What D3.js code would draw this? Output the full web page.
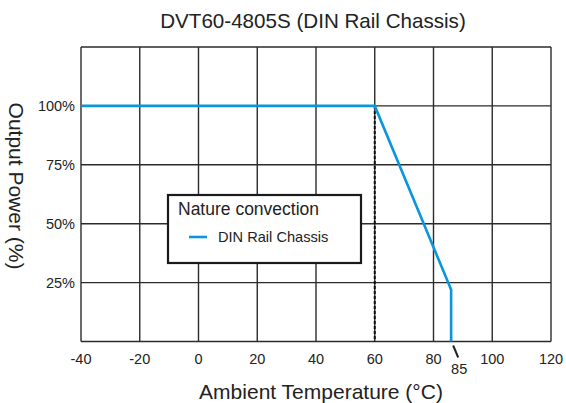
<!DOCTYPE html>
<html>
<head>
<meta charset="utf-8">
<script src="https://cdn.jsdelivr.net/npm/d3@7"></script>
<style>
  body { margin: 0; background: #fff; }
  text { font-family: "Liberation Sans", Arial, sans-serif; fill: #222; }
</style>
</head>
<body>
<div id="chart"></div>
<script>
// data
const temps = [-40, 60, 85, 86, 86];
const power = [100, 100, 25, 22, 0];
const xTicks = [-40, -20, 0, 20, 40, 60, 80, 100, 120];
const yTicks = [25, 50, 75, 100];
const yGrid = [0, 25, 50, 75, 100, 125];
const derateStart = 60;
const maxTemp = 85;

const W = 566, H = 403;
const margin = {top: 47, right: 15, bottom: 62, left: 81};
const w = 551 - margin.left;
const h = 341.5 - margin.top;

const svg = d3.select("#chart").append("svg")
  .attr("width", W).attr("height", H);

const g = svg.append("g")
  .attr("transform", "translate(" + margin.left + "," + margin.top + ")");

const x = d3.scaleLinear().domain([-40, 120]).range([0, w]);
const y = d3.scaleLinear().domain([0, 125]).range([h, 0]);

//------------------------------grid---------------------------------
g.selectAll(".vgrid").data(xTicks).enter().append("line")
  .attr("x1", d => x(d)).attr("x2", d => x(d))
  .attr("y1", 0).attr("y2", h)
  .attr("stroke", "#2b2b2b").attr("stroke-width", 1.4);

g.selectAll(".hgrid").data(yGrid).enter().append("line")
  .attr("x1", 0).attr("x2", w)
  .attr("y1", d => y(d)).attr("y2", d => y(d))
  .attr("stroke", "#2b2b2b").attr("stroke-width", 1.4);

//------------------------------tick labels---------------------------
g.selectAll(".xlab").data(xTicks).enter().append("text")
  .attr("x", d => x(d)).attr("y", h + 22)
  .attr("text-anchor", "middle")
  .style("font-size", "14.5px")
  .text(d => d);

g.selectAll(".ylab").data(yTicks).enter().append("text")
  .attr("x", -6).attr("y", d => y(d) + 5)
  .attr("text-anchor", "end")
  .style("font-size", "14.5px")
  .text(d => d + "%");

// 85 marker
g.append("line")
  .attr("x1", x(maxTemp) + 5).attr("y1", h + 4)
  .attr("x2", x(maxTemp) + 10).attr("y2", h + 16)
  .attr("stroke", "#222").attr("stroke-width", 2);
g.append("text")
  .attr("x", x(maxTemp) + 11).attr("y", h + 32)
  .attr("text-anchor", "middle")
  .style("font-size", "14.5px")
  .text(maxTemp);

//------------------------------dashed 60 line------------------------
g.append("line")
  .attr("x1", x(derateStart)).attr("x2", x(derateStart))
  .attr("y1", y(100)).attr("y2", h)
  .attr("stroke", "#111").attr("stroke-width", 2)
  .attr("stroke-dasharray", "3,2");

//------------------------------curve---------------------------------
const pts = temps.map((t, i) => [t, power[i]]);
g.append("path")
  .datum(pts)
  .attr("fill", "none")
  .attr("stroke", "#0a96dc")
  .attr("stroke-width", 2.6)
  .attr("d", d3.line().x(d => x(d[0])).y(d => y(d[1])));

//------------------------------legend--------------------------------
const lg = svg.append("g").attr("transform", "translate(168,195)");
lg.append("rect")
  .attr("width", 193).attr("height", 68)
  .attr("fill", "#fff").attr("stroke", "#1a1a1a").attr("stroke-width", 2.2);
lg.append("text")
  .attr("x", 10).attr("y", 20)
  .style("font-size", "17.5px")
  .text("Nature convection");
lg.append("line")
  .attr("x1", 21).attr("x2", 39).attr("y1", 42).attr("y2", 42)
  .attr("stroke", "#0a96dc").attr("stroke-width", 2.6);
lg.append("text")
  .attr("x", 50).attr("y", 47)
  .style("font-size", "14.6px")
  .text("DIN Rail Chassis");

//------------------------------titles--------------------------------
svg.append("text")
  .attr("x", 313).attr("y", 28)
  .attr("text-anchor", "middle")
  .style("font-size", "20.6px")
  .text("DVT60-4805S (DIN Rail Chassis)");

svg.append("text")
  .attr("x", 321).attr("y", 399)
  .attr("text-anchor", "middle")
  .style("font-size", "21px")
  .text("Ambient Temperature (°C)");

svg.append("text")
  .attr("transform", "translate(9,186) rotate(90)")
  .attr("text-anchor", "middle")
  .style("font-size", "21px")
  .text("Output Power (%)");
</script>
</body>
</html>
